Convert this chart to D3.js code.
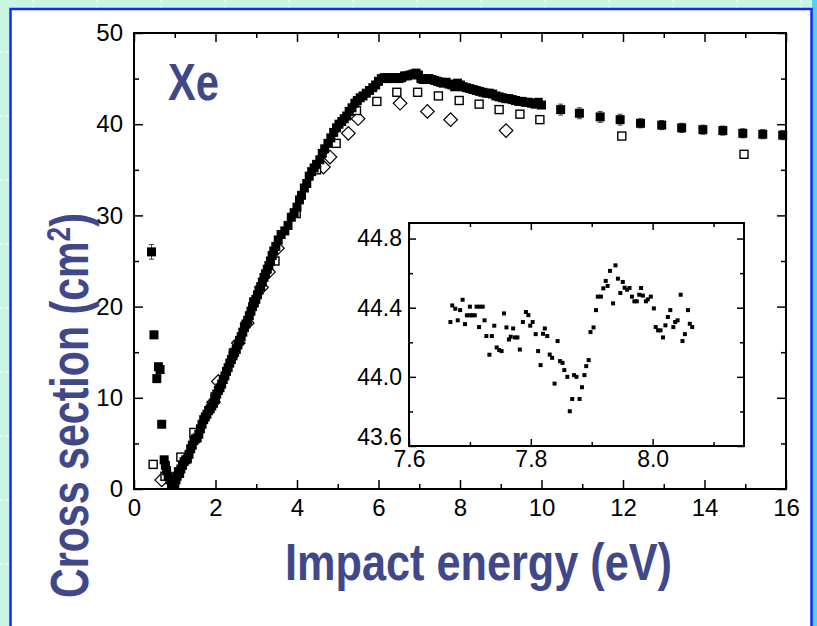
<!DOCTYPE html>
<html lang="en">
<head>
<meta charset="UTF-8"/>
<title>Xe cross section</title>
<script src="https://d3js.org/d3.v7.min.js" charset="utf-8"></script>
<style type="text/css">
    body { margin: 0; }
    text { font-family: "Liberation Sans", Arial, sans-serif; }
    .tick text { font-size: 24px; fill: #000; }
    .inset .tick text { font-size: 23px; }
    .tick line { stroke: #000; stroke-width: 1.5px; }
    .domain { display: none; }
    .title { font-weight: bold; fill: #414889; }
</style>
</head>
<body>
<div id="chart"></div>
<script type="text/javascript">
// main data: filled squares (dense scan up to 10 eV)
var filledE = [0.43, 0.49, 0.56, 0.60, 0.64, 0.68, 0.74, 0.77, 0.80, 0.84, 0.88, 0.92, 0.96, 1.00, 1.03, 1.06, 1.09, 1.12,
    1.15, 1.19, 1.23, 1.27, 1.31, 1.35, 1.39, 1.43, 1.47, 1.51, 1.55, 1.59, 1.63, 1.67, 1.71, 1.75, 1.79, 1.83, 1.87,
    1.91, 1.95, 1.99, 2.03, 2.07, 2.11, 2.15, 2.19, 2.23, 2.27, 2.31, 2.35, 2.39, 2.43, 2.47, 2.51, 2.55, 2.59, 2.63,
    2.67, 2.71, 2.75, 2.79, 2.83, 2.87, 2.91, 2.95, 2.99, 3.03, 3.07, 3.11, 3.15, 3.19, 3.23, 3.27, 3.31, 3.35, 3.39,
    3.43, 3.48, 3.54, 3.61, 3.70, 3.78, 3.86, 3.93, 4.00, 4.06, 4.11, 4.18, 4.24, 4.30, 4.36, 4.42, 4.48, 4.56, 4.62,
    4.68, 4.76, 4.83, 4.90, 4.97, 5.03, 5.10, 5.16, 5.22, 5.28, 5.35, 5.42, 5.48, 5.55, 5.62, 5.70, 5.78, 5.86, 5.93,
    6.00, 6.07, 6.14, 6.21, 6.28, 6.35, 6.42, 6.50, 6.57, 6.64, 6.71, 6.78, 6.85, 6.92, 6.98, 7.04, 7.10, 7.17, 7.24,
    7.31, 7.38, 7.45, 7.52, 7.59, 7.66, 7.73, 7.80, 7.87, 7.94, 8.01, 8.08, 8.16, 8.24, 8.32, 8.40, 8.48, 8.56, 8.64,
    8.72, 8.80, 8.88, 8.96, 9.04, 9.12, 9.20, 9.28, 9.36, 9.44, 9.52, 9.60, 9.68, 9.76, 9.84, 9.92, 10.00];
var filledCS = [26.0, 16.9, 12.1, 13.4, 13.1, 7.1, 3.2, 2.6, 2.0, 1.4, 1.0, 0.6, 0.4, 0.6, 1.0, 1.4, 1.9, 1.7,
    2.2, 2.6, 3.0, 3.2, 3.3, 3.8, 4.4, 4.8, 5.3, 5.5, 5.6, 6.0, 6.6, 7.1, 7.6, 7.9, 8.2, 8.6, 8.8,
    9.1, 9.4, 9.9, 10.4, 10.8, 11.1, 11.5, 12.0, 12.4, 12.9, 13.3, 13.8, 14.2, 14.6, 15.0, 15.3, 15.8, 16.3, 16.7,
    17.2, 17.7, 18.1, 18.5, 19.0, 19.5, 20.0, 20.4, 20.8, 21.3, 21.8, 22.2, 22.7, 23.2, 23.6, 24.1, 24.5, 25.0, 25.6,
    26.1, 26.6, 27.3, 27.9, 28.3, 28.9, 29.8, 30.3, 30.9, 31.7, 32.2, 33.0, 33.5, 34.3, 34.8, 35.2, 35.6, 36.1, 36.8,
    37.3, 37.9, 38.5, 39.1, 39.6, 40.0, 40.3, 40.6, 40.9, 41.4, 41.8, 42.3, 42.6, 42.9, 43.1, 43.4, 43.7, 44.0, 44.3,
    44.7, 45.0, 45.1, 45.1, 45.0, 45.1, 45.1, 45.0, 45.1, 45.3, 45.3, 45.4, 45.5, 45.6, 45.4, 45.0, 44.9, 45.0, 45.0,
    44.9, 44.8, 44.7, 44.6, 44.5, 44.6, 44.4, 44.3, 44.1, 44.5, 44.3, 44.1, 44.0, 43.9, 43.8, 43.7, 43.6, 43.5, 43.4,
    43.4, 43.3, 43.1, 43.0, 42.9, 42.8, 42.8, 42.7, 42.6, 42.5, 42.5, 42.4, 42.4, 42.3, 42.2, 42.4, 42.1];
var filledErr = [0.8, 0.4, 0.4, 0.4, 0.3, 0.3];

// filled squares, sparse points above 10 eV (with small error bars)
var tailE = [10.47, 10.93, 11.44, 11.93, 12.43, 12.95, 13.44, 13.96, 14.45, 14.94, 15.43, 15.92];
var tailCS = [41.6, 41.2, 40.8, 40.5, 40.1, 39.9, 39.6, 39.4, 39.3, 39.0, 38.9, 38.8];
var tailErr = [0.6, 0.6, 0.6, 0.6, 0.5, 0.5, 0.5, 0.5, 0.5, 0.5, 0.5, 0.5];

// open squares
var openE = [0.47, 0.76, 1.15, 1.47, 1.99, 2.44, 2.94, 3.46, 3.98, 4.48, 4.96, 5.46, 5.96, 6.45, 6.96, 7.47, 7.98,
    8.47, 8.96, 9.47, 9.96, 11.97, 14.97];
var openCS = [2.7, 1.4, 3.5, 6.2, 10.1, 14.9, 20.5, 25.0, 30.2, 35.0, 37.9, 41.5, 42.5, 43.5, 43.5, 43.1, 42.6,
    42.2, 41.6, 41.1, 40.5, 38.7, 36.7];

// open diamonds
var diaE = [0.68, 1.95, 2.07, 2.56, 2.78, 3.13, 3.30, 3.52, 4.65, 4.81, 5.26, 5.50, 6.53, 7.20, 7.77, 9.13];
var diaCS = [1.0, 9.5, 11.8, 16.0, 18.2, 22.1, 23.8, 26.4, 35.3, 36.4, 39.0, 40.6, 42.3, 41.4, 40.5, 39.3];

// inset: fine scan 7.65 - 8.07 eV
var insetE = [7.668, 7.671, 7.676, 7.680, 7.684, 7.688, 7.692, 7.695, 7.700, 7.700, 7.704, 7.708, 7.711, 7.715,
    7.716, 7.721, 7.724, 7.727, 7.732, 7.736, 7.740, 7.744, 7.748, 7.752, 7.756, 7.760, 7.764, 7.767, 7.771,
    7.774, 7.778, 7.782, 7.787, 7.792, 7.796, 7.799, 7.803, 7.808, 7.812,
    7.816, 7.820, 7.823, 7.827, 7.831, 7.835, 7.839, 7.844, 7.848, 7.852, 7.855, 7.860, 7.864, 7.868, 7.871,
    7.875, 7.880, 7.884, 7.888, 7.891, 7.895, 7.898, 7.903, 7.907, 7.910, 7.915, 7.919, 7.923, 7.926, 7.930,
    7.935, 7.939, 7.943, 7.947, 7.951, 7.954, 7.958, 7.962, 7.966, 7.970, 7.974, 7.978, 7.981, 7.984, 7.989,
    7.992, 7.997, 8.002, 8.005, 8.009, 8.013, 8.017, 8.021, 8.025, 8.029, 8.034, 8.037, 8.041, 8.046, 8.049,
    8.053, 8.058, 8.061, 8.065];
var insetCS = [44.317, 44.413, 44.394, 44.327, 44.386, 44.446, 44.305, 44.356, 44.406, 44.356, 44.356, 44.356, 44.406, 44.288,
    44.406, 44.406, 44.327, 44.236, 44.128, 44.236, 44.296, 44.170, 44.155, 44.149, 44.367, 44.286, 44.216, 44.232, 44.280,
    44.228, 44.228, 44.158, 44.317, 44.375, 44.357, 44.296, 44.317, 44.247, 44.149,
    44.068, 44.249, 44.280, 44.236, 44.129, 44.110, 43.961, 44.207, 44.091, 44.081, 44.039, 44.000, 43.801, 43.872, 44.010,
    44.000, 43.872, 43.940, 44.010, 44.062, 44.097, 44.259, 44.286, 44.386, 44.464, 44.464, 44.512, 44.555, 44.526, 44.613,
    44.425, 44.645, 44.568, 44.485, 44.549, 44.516, 44.504, 44.514, 44.464, 44.437, 44.437, 44.475, 44.514, 44.470, 44.437,
    44.448, 44.464, 44.396, 44.288, 44.269, 44.269, 44.228, 44.298, 44.346, 44.386, 44.288, 44.317, 44.327, 44.475, 44.207,
    44.247, 44.386, 44.307, 44.288];

// tick values
var xTicks = [0, 2, 4, 6, 8, 10, 12, 14, 16];
var xMinor = [1, 3, 5, 7, 9, 11, 13, 15];
var yTicks = [0, 10, 20, 30, 40, 50];
var yMinor = [5, 15, 25, 35, 45];
var inXTicks = [7.6, 7.8, 8.0];
var inXMinor = [7.7, 7.9, 8.1];
var inYTicks = [43.6, 44.0, 44.4, 44.8];
var inYMinor = [43.8, 44.2, 44.6];

var W = 817, H = 626;
var svg = d3.select("#chart").append("svg")
    .attr("width", W)
    .attr("height", H);

// slide background: mint with faint dashed grid, white panel with blue border
svg.append("rect").attr("width", W).attr("height", H).attr("fill", "#c8f6e2");
svg.append("rect").attr("x", 812).attr("width", 5).attr("height", H).attr("fill", "#5ccfee");
var grid = svg.append("g").attr("stroke", "#ffffff").attr("stroke-width", 1).attr("stroke-dasharray", "3,3");
d3.range(33, W, 64).forEach(function (gx) {
    grid.append("line").attr("x1", gx).attr("x2", gx).attr("y1", 0).attr("y2", 9);
});
d3.range(52, H, 64).forEach(function (gy) {
    grid.append("line").attr("x1", 0).attr("x2", 10).attr("y1", gy).attr("y2", gy);
});
svg.append("rect")
    .attr("x", 10.5).attr("y", 9)
    .attr("width", 801).attr("height", 640)
    .attr("fill", "#ffffff")
    .attr("stroke", "#1428ff")
    .attr("stroke-width", 2.5);

// ---------- main plot ----------
var m = {left: 134, top: 33, right: 786, bottom: 489};
var x = d3.scaleLinear().domain([0, 16]).range([m.left, m.right]);
var y = d3.scaleLinear().domain([0, 50]).range([m.bottom, m.top]);

function addAxes(g, xs, ys, xMaj, xMin, yMaj, yMin, big, small, xFmt, yFmt, xPad, yPad) {
    var x0 = xs.range()[0], x1 = xs.range()[1], y0 = ys.range()[0], y1 = ys.range()[1];
    g.append("g").attr("transform", "translate(0," + y0 + ")")
        .call(d3.axisBottom(xs).tickValues(xMaj).tickSize(-big).tickPadding(xPad).tickFormat(xFmt));
    g.append("g").attr("transform", "translate(0," + y0 + ")")
        .call(d3.axisBottom(xs).tickValues(xMin).tickSize(-small).tickFormat(""));
    g.append("g").attr("transform", "translate(0," + y1 + ")")
        .call(d3.axisTop(xs).tickValues(xMaj).tickSize(-big).tickFormat(""));
    g.append("g").attr("transform", "translate(0," + y1 + ")")
        .call(d3.axisTop(xs).tickValues(xMin).tickSize(-small).tickFormat(""));
    var yl = g.append("g").attr("transform", "translate(" + x0 + ",0)")
        .call(d3.axisLeft(ys).tickValues(yMaj).tickSize(-big).tickPadding(yPad).tickFormat(yFmt));
    g.append("g").attr("transform", "translate(" + x0 + ",0)")
        .call(d3.axisLeft(ys).tickValues(yMin).tickSize(-small).tickFormat(""));
    g.append("g").attr("transform", "translate(" + x1 + ",0)")
        .call(d3.axisRight(ys).tickValues(yMaj).tickSize(-big).tickFormat(""));
    g.append("g").attr("transform", "translate(" + x1 + ",0)")
        .call(d3.axisRight(ys).tickValues(yMin).tickSize(-small).tickFormat(""));
    g.append("rect")
        .attr("x", x0).attr("y", y1)
        .attr("width", x1 - x0).attr("height", y0 - y1)
        .attr("fill", "none").attr("stroke", "#000").attr("stroke-width", 2);
    return yl;
}

var main = svg.append("g");
addAxes(main, x, y, xTicks, xMinor, yTicks, yMinor, 9, 5, d3.format("d"), d3.format("d"), 10, 11);

var pts = main.append("g");

// open diamonds
pts.selectAll(".dia")
    .data(diaE.map(function (e, i) { return [e, diaCS[i]]; }))
    .enter().append("path")
    .attr("d", d3.symbol().type(d3.symbolSquare).size(92))
    .attr("transform", function (d) { return "translate(" + x(d[0]) + "," + y(d[1]) + ") rotate(45)"; })
    .attr("fill", "#fff").attr("stroke", "#000").attr("stroke-width", 1.2);

// open squares
pts.selectAll(".osq")
    .data(openE.map(function (e, i) { return [e, openCS[i]]; }))
    .enter().append("rect")
    .attr("x", function (d) { return x(d[0]) - 4; })
    .attr("y", function (d) { return y(d[1]) - 4; })
    .attr("width", 8).attr("height", 8)
    .attr("fill", "#fff").attr("stroke", "#000").attr("stroke-width", 1.4);

// filled squares with error bars
var filled = filledE.map(function (e, i) { return [e, filledCS[i], filledErr[i] || 0]; })
    .concat(tailE.map(function (e, i) { return [e, tailCS[i], tailErr[i]]; }));

pts.selectAll(".err")
    .data(filled.filter(function (d) { return d[2] > 0; }))
    .enter().append("path")
    .attr("d", function (d) {
        var cx = x(d[0]), ya = y(d[1] + d[2]), yb = y(d[1] - d[2]);
        return "M" + cx + "," + ya + "V" + yb + "M" + (cx - 2.5) + "," + ya + "h5M" + (cx - 2.5) + "," + yb + "h5";
    })
    .attr("stroke", "#444").attr("stroke-width", 1).attr("fill", "none");

pts.selectAll(".fsq")
    .data(filled)
    .enter().append("rect")
    .attr("x", function (d) { return x(d[0]) - 4.5; })
    .attr("y", function (d) { return y(d[1]) - 4.5; })
    .attr("width", 9).attr("height", 9)
    .attr("fill", "#000");

// ---------- inset ----------
var ix = d3.scaleLinear().domain([7.6, 8.15]).range([409, 744]);
var iy = d3.scaleLinear().domain([43.6, 44.89]).range([446, 223]);
var inset = svg.append("g").attr("class", "inset");
inset.append("rect").attr("x", 409).attr("y", 223).attr("width", 335).attr("height", 223).attr("fill", "#fff");
var inYAxis = addAxes(inset, ix, iy, inXTicks, inXMinor, inYTicks, inYMinor, 7, 4, d3.format(".1f"), d3.format(".1f"), 5, 7);
// lowest inset label sits a little higher, clear of the x labels
inYAxis.selectAll(".tick text").filter(function (d) { return d === inYTicks[0]; }).attr("y", -9);

inset.selectAll(".ipt")
    .data(insetE.map(function (e, i) { return [e, insetCS[i]]; }))
    .enter().append("rect")
    .attr("x", function (d) { return ix(d[0]) - 2; })
    .attr("y", function (d) { return iy(d[1]) - 2; })
    .attr("width", 4).attr("height", 4)
    .attr("fill", "#000");

// ---------- titles ----------
svg.append("text").attr("class", "title")
    .attr("x", 168).attr("y", 100)
    .attr("font-size", 52)
    .attr("textLength", 51).attr("lengthAdjust", "spacingAndGlyphs")
    .text("Xe");

svg.append("text").attr("class", "title")
    .attr("x", 285).attr("y", 580)
    .attr("font-size", 52)
    .attr("textLength", 387).attr("lengthAdjust", "spacingAndGlyphs")
    .text("Impact energy (eV)");

var yl = svg.append("text").attr("class", "title")
    .attr("transform", "translate(88,598) rotate(-90)")
    .attr("font-size", 53)
    .attr("textLength", 385).attr("lengthAdjust", "spacingAndGlyphs");
yl.append("tspan").text("Cross section (cm");
yl.append("tspan").attr("font-size", 34).attr("dy", -18).text("2");
yl.append("tspan").attr("dy", 18).text(")");
</script>
</body>
</html>
